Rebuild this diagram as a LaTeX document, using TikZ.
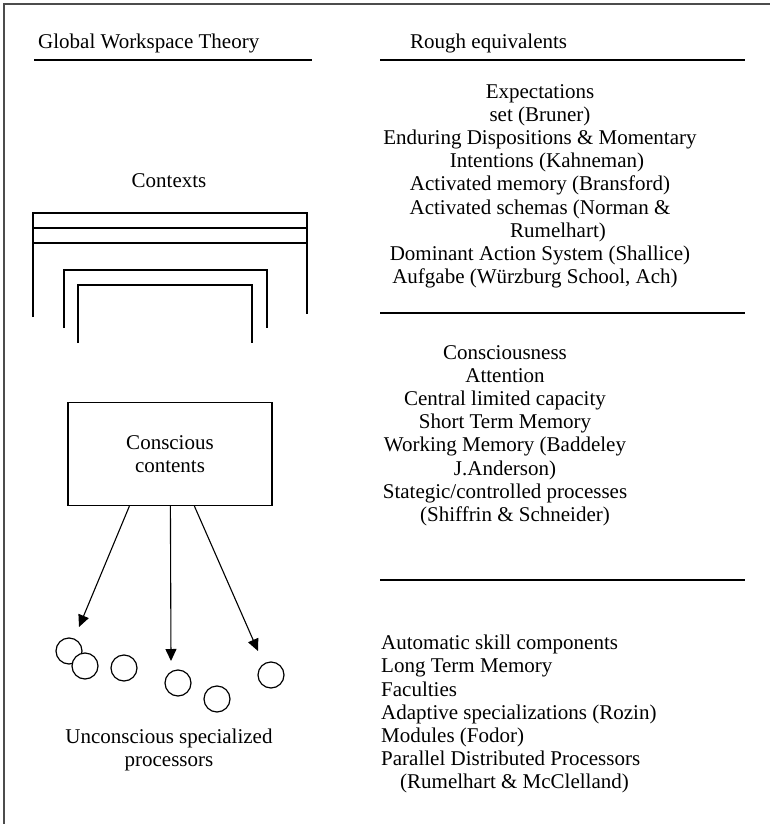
\documentclass[tikz,border=0pt]{standalone}
\usepackage{fontspec}
\setmainfont{Liberation Serif}
\usetikzlibrary{arrows.meta}
\begin{document}
\begin{tikzpicture}[x=1pt,y=-1pt,
  txt/.style={font=\fontsize{21}{23.2}\selectfont, inner sep=0pt},
  rule/.style={line width=1.3pt},
  ctx/.style={line width=1.2pt},
  proc/.style={circle, draw, fill=white, line width=1.2pt, minimum size=26pt, inner sep=0pt},
  arr/.style={line width=1.1pt, -{Triangle[length=12pt,width=11pt]}},
  frame/.style={draw=black!70, line width=2pt}]
\useasboundingbox (0,0) rectangle (770,824);
\draw[frame] (3.7,824) -- (3.7,3.7) -- (770,3.7);

% headings
\node[txt, anchor=base west] (gwt) at (38,49) {Global Workspace Theory};
\node[txt, anchor=base west] (re) at (410,49) {Rough equivalents};
\draw[rule] (34,60) -- (312,60);
\draw[rule] (380,60) -- (745,60);

% right column
\node[txt, align=center, anchor=north] (b1) at (540,84) {Expectations\\
set (Bruner)\\
Enduring Dispositions \& Momentary\\
\hspace*{14pt}Intentions (Kahneman)\\
Activated memory (Bransford)\\
Activated schemas (Norman \&\\
\hspace*{36pt}Rumelhart)\\
Dominant Action System (Shallice)\\
Aufgabe (Würzburg School, Ach)\hspace*{10pt}};
\draw[rule] (380,313) -- (745,313);

\node[txt, align=center, anchor=north] (b2) at (505,345) {Consciousness\\
Attention\\
Central limited capacity\\
Short Term Memory\\
Working Memory (Baddeley\\
J.Anderson)\\
Stategic/controlled processes\\
\hspace*{20pt}(Shiffrin \& Schneider)};
\draw[rule] (380,580) -- (745,580);

\node[txt, align=left, anchor=north west] (b3) at (381,635) {Automatic skill components\\
Long Term Memory\\
Faculties\\
Adaptive specializations (Rozin)\\
Modules (Fodor)\\
Parallel Distributed Processors\\
\hspace*{19pt}(Rumelhart \& McClelland)};

% contexts
\node[txt, anchor=base] (ctxlabel) at (169,187) {Contexts};
\draw[ctx] (33,317) -- (33,213) -- (307,213) -- (307,314);
\draw[ctx] (33,228) -- (307,228);
\draw[ctx] (33,243) -- (307,243);
\draw[ctx] (64,328) -- (64,270) -- (267,270) -- (267,328);
\draw[ctx] (78,343) -- (78,285) -- (252,285) -- (252,343);

% conscious contents
\node[txt, draw, line width=1.2pt, align=center, minimum width=204pt, minimum height=103pt] (cc) at (170,454) {Conscious\\contents};

% processors
\node[proc] (p1) at (69,651) {};
\node[proc] (p2) at (85,666) {};
\node[proc] (p3) at (124,668) {};
\node[proc] (p4) at (178,683) {};
\node[proc] (p5) at (217,699) {};
\node[proc] (p6) at (271,675) {};

\coordinate (t1) at (79,627);
\coordinate (t2) at (171,661);
\coordinate (t3) at (258,651);
\draw[arr] ([xshift=62pt]cc.south west) -- (t1);
\draw[arr] ([xshift=103pt]cc.south west) -- (t2);
\draw[arr] ([xshift=127pt]cc.south west) -- (t3);

\node[txt, align=center, anchor=north] (ucp) at (169,729) {Unconscious specialized\\processors};
\end{tikzpicture}
\end{document}
